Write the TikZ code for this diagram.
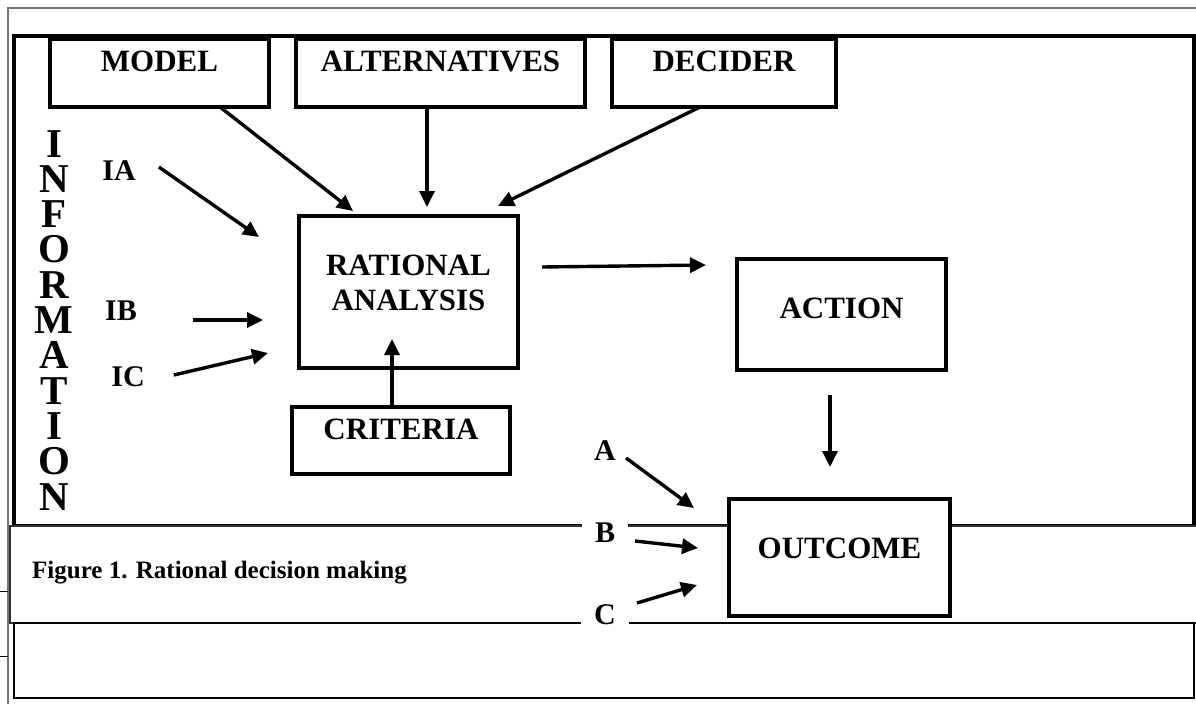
\documentclass[tikz,border=0pt]{standalone}
\usepackage{fontspec}
\setmainfont{Liberation Serif}
\usetikzlibrary{arrows.meta}

\begin{document}
\begin{tikzpicture}[x=1pt, y=-1pt,
    box/.style={draw, line width=3.6pt, fill=white, inner sep=0pt, outer sep=0pt, align=center,
      font=\fontsize{31}{35}\selectfont\bfseries, text depth=24pt},
    lbl/.style={inner sep=0pt, font=\fontsize{30}{34}\selectfont\bfseries},
    infoletter/.style={inner sep=0pt, anchor=base, font=\fontsize{41}{41}\selectfont\bfseries},
    arr/.style={line width=3.4pt, -{Triangle[length=16pt, width=15pt]}}]
    \useasboundingbox (0,0) rectangle (1196,704);

    % Frames
    \draw[black!55, line width=2pt] (8,704) -- (8,8) -- (1196,8);
    \draw[line width=1pt] (0,591) -- (8,591) (0,656) -- (8,656);
    \draw[line width=3.2pt] (14,36) rectangle (1194,526);
    \fill[white] (10,526) rectangle (1196,623);
    \draw[black!80, line width=1.6pt] (1196,526) -- (10,526) -- (10,623) -- (1196,623);
    \draw[line width=2.8pt] (14,623) rectangle (1194,698);

    % Boxes
    \node[box, minimum width=219pt, minimum height=68pt] (model) at (159.5,73) {MODEL};
    \node[box, minimum width=289pt, minimum height=68pt] (alt) at (440.5,73) {ALTERNATIVES};
    \node[box, minimum width=224pt, minimum height=68pt] (decider) at (724,73) {DECIDER};
    \node[box, minimum width=219pt, minimum height=152pt, text depth=19pt] (ra) at (408.5,292) {RATIONAL\\ANALYSIS};
    \node[box, minimum width=218pt, minimum height=67pt, text depth=23pt] (criteria) at (401,440.5) {CRITERIA};
    \node[box, minimum width=209pt, minimum height=111pt, text depth=13pt] (action) at (841.5,314.5) {ACTION};
    \node[box, minimum width=221pt, minimum height=117pt, text depth=19pt] (outcome) at (839.5,557.5) {OUTCOME};

    % Labels
    \foreach \ltr [count=\i from 0] in {I,N,F,O,R,M,A,T,I,O,N}
        \node[infoletter] (info\i) at (54,{157+35.3*\i}) {\ltr};
    \node[lbl] (ia) at (119,171) {IA};
    \node[lbl] (ib) at (121,311) {IB};
    \node[lbl] (ic) at (128,377) {IC};
    \node[lbl] (a) at (605,451) {A};
    \node[lbl, fill=white, inner xsep=13pt] (b) at (605,533) {B};
    \node[lbl, fill=white, inner xsep=13pt] (c) at (605,615) {C};
    \node[anchor=base west, inner sep=0pt, font=\fontsize{25}{30}\selectfont\bfseries] (caption) at (32,578) {Figure 1. Rational decision making};

    % Arrows
    \draw[arr] ([shift={(60.5,0)}]model.south) -- ([shift={(-55.5,-5)}]ra.north);
    \draw[arr] ([shift={(-13.5,0)}]alt.south) -- ([shift={(18.5,-9)}]ra.north);
    \draw[arr] ([shift={(-24,0)}]decider.south) -- ([shift={(-20,-10)}]ra.north east);
    \draw[arr] ([shift={(23,-4)}]ia.east) -- ([shift={(-40,-55)}]ra.west);
    \draw[arr] ([shift={(56,9)}]ib.east) -- ([shift={(-36,28)}]ra.west);
    \draw[arr] ([shift={(29,-2)}]ic.east) -- ([shift={(-31,61)}]ra.west);
    \draw[arr] ([shift={(-9,0)}]criteria.north) -- ([shift={(-16.5,-29)}]ra.south);
    \draw[arr] ([shift={(24,-25)}]ra.east) -- ([shift={(-31,-49.5)}]action.west);
    \draw[arr] ([shift={(-11.5,25)}]action.south) -- ([shift={(-9.5,-32)}]outcome.north);
    \draw[arr] ([shift={(10,7)}]a.east) -- ([shift={(-35,-49.5)}]outcome.west);
    \draw[arr] ([shift={(30,8)}]b.center) -- ([shift={(-31,-9.5)}]outcome.west);
    \draw[arr] ([shift={(32,-12)}]c.center) -- ([shift={(-32,27.5)}]outcome.west);
\end{tikzpicture}
\end{document}
